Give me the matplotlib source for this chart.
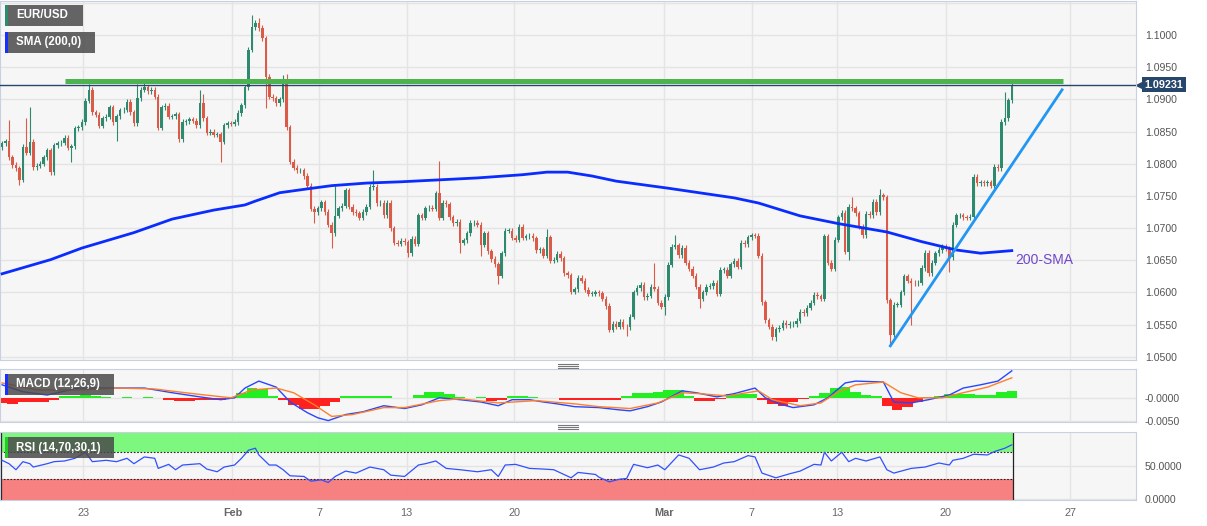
import numpy as np
import matplotlib.pyplot as plt
from matplotlib.patches import Rectangle
from matplotlib.lines import Line2D
from matplotlib.transforms import blended_transform_factory

plt.rcParams['font.family'] = ['Liberation Sans', 'DejaVu Sans']

# 4H closes, EUR/USD, Jan 17 -> Mar 23
closes = [
    1.0832, 1.0835, 1.0810, 1.0798, 1.0793, 1.0775, 1.0826, 1.0817, 1.0834, 1.0795,
    1.0797, 1.0800, 1.0810, 1.0821, 1.0787, 1.0829, 1.0832, 1.0833, 1.0840, 1.0825,
    1.0827, 1.0855, 1.0857, 1.0865, 1.0898, 1.0915,
    1.0880, 1.0876, 1.0859, 1.0871, 1.0873, 1.0888, 1.0865, 1.0874, 1.0883, 1.0884,
    1.0896, 1.0880, 1.0863, 1.0902, 1.0915, 1.0919, 1.0913, 1.0915, 1.0904, 1.0856,
    1.0888, 1.0890, 1.0873, 1.0874, 1.0877, 1.0838, 1.0865, 1.0866, 1.0869, 1.0867,
    1.0860, 1.0894, 1.0871, 1.0848, 1.0850, 1.0845, 1.0846, 1.0834, 1.0860, 1.0863,
    1.0862, 1.0865, 1.0879, 1.0891, 1.0919, 1.0977, 1.1012, 1.1019,
    1.1011, 1.0995, 1.0935, 1.0904, 1.0902, 1.0894, 1.0900, 1.0927, 1.0857, 1.0803,
    1.0794, 1.0790, 1.0790, 1.0781, 1.0766, 1.0730, 1.0725, 1.0731, 1.0740, 1.0725,
    1.0705, 1.0692, 1.0719, 1.0731, 1.0735, 1.0759, 1.0733, 1.0725, 1.0723, 1.0716,
    1.0725, 1.0733, 1.0764, 1.0764, 1.0739, 1.0739, 1.0720, 1.0739, 1.0700, 1.0677,
    1.0676, 1.0680, 1.0678, 1.0661, 1.0683, 1.0676, 1.0720, 1.0716, 1.0731, 1.0732,
    1.0730, 1.0754, 1.0716, 1.0739, 1.0737, 1.0717, 1.0708, 1.0710, 1.0677, 1.0681,
    1.0692, 1.0708, 1.0708, 1.0705, 1.0674, 1.0692, 1.0664, 1.0652, 1.0644, 1.0626,
    1.0661, 1.0696,
    1.0696, 1.0685, 1.0682, 1.0702, 1.0685, 1.0687, 1.0688, 1.0684, 1.0666, 1.0667,
    1.0657, 1.0686, 1.0649, 1.0651, 1.0660, 1.0653, 1.0630, 1.0627, 1.0601, 1.0605,
    1.0623, 1.0618, 1.0604, 1.0598, 1.0598, 1.0600, 1.0599, 1.0590, 1.0579, 1.0542,
    1.0551, 1.0547, 1.0554, 1.0547, 1.0546, 1.0562, 1.0600, 1.0607, 1.0612, 1.0593,
    1.0595, 1.0609, 1.0606, 1.0584, 1.0578, 1.0593, 1.0643, 1.0671, 1.0673, 1.0658,
    1.0669, 1.0646, 1.0637, 1.0626, 1.0609, 1.0590, 1.0600, 1.0609, 1.0610, 1.0615,
    1.0598, 1.0635, 1.0635, 1.0626, 1.0644, 1.0649, 1.0640, 1.0677, 1.0675, 1.0686,
    1.0689, 1.0688, 1.0657,
    1.0585, 1.0557, 1.0547, 1.0530, 1.0543, 1.0545, 1.0553, 1.0549, 1.0551, 1.0551,
    1.0556, 1.0570, 1.0568, 1.0576, 1.0584, 1.0596, 1.0594, 1.0590, 1.0687, 1.0646,
    1.0637, 1.0682, 1.0717, 1.0724, 1.0663, 1.0733, 1.0731, 1.0723, 1.0702, 1.0689,
    1.0722, 1.0720, 1.0741, 1.0725, 1.0751, 1.0748, 1.0588, 1.0534, 1.0581, 1.0581,
    1.0600, 1.0625, 1.0618, 1.0615, 1.0614, 1.0615, 1.0638, 1.0662, 1.0630, 1.0646,
    1.0661, 1.0666, 1.0671, 1.0668, 1.0655, 1.0705, 1.0720, 1.0720, 1.0717, 1.0716,
    1.0718, 1.0780, 1.0770, 1.0771, 1.0770, 1.0771, 1.0766, 1.0795, 1.0793, 1.0865,
    1.0871, 1.0899, 1.09231,
]
first_open = 1.0826

# long wicks
hi_idx = [2, 7, 8, 25, 39, 41, 57, 58, 72, 74, 81, 82, 96, 107, 126, 157, 188, 194, 245, 253, 289, 291]
hi_val = [1.0868, 1.0871, 1.0888, 1.0924, 1.0924, 1.0925, 1.0915, 1.0908, 1.1031, 1.1026, 1.0938,
          1.0940, 1.0766, 1.0790, 1.0804, 1.0699, 1.0646, 1.0689, 1.0748, 1.0761, 1.0911, 1.0925]
lo_idx = [5, 20, 33, 63, 76, 90, 95, 117, 132, 138, 143, 180, 191, 201, 223, 244, 256, 262, 273]
lo_val = [1.0767, 1.0803, 1.0835, 1.0803, 1.0887, 1.0708, 1.0669, 1.0655, 1.0661, 1.0656, 1.0613,
          1.0533, 1.0565, 1.0576, 1.0525, 1.0651, 1.0517, 1.0550, 1.0632]

# 200 SMA (read at candle positions)
sma_idx = [0, 14, 23, 38, 49, 61, 70, 73, 80, 88, 95, 105, 115, 137, 150, 157, 163, 170, 177, 192,
           211, 218, 230, 241, 255, 265, 275, 282, 291]
sma_val = [1.0629, 1.0651, 1.0669, 1.0693, 1.0714, 1.0728, 1.0736, 1.0742, 1.0755, 1.0761,
           1.0766, 1.0770, 1.0772, 1.0778, 1.0783, 1.0787, 1.0787, 1.0781, 1.0773, 1.0762, 1.0747, 1.0739,
           1.0719, 1.0707, 1.0694, 1.0679, 1.0666, 1.0661, 1.0665]

resist_idx = [18.2, 305.8]
resist_val = 1.0929
trend_idx = [256, 305.5]
trend_val = [1.0517, 1.0915]

# MACD (values in 1e-4)
macd_idx = [0, 6, 13, 22, 33, 41, 49, 57, 63, 67, 70, 74, 79, 83, 88, 91, 94, 99, 104, 110,
            116, 121, 126, 132, 138, 143, 147, 152, 156, 160, 165, 172, 178, 181, 186, 190,
            196, 200, 206, 211, 217, 220, 224, 228, 234, 238, 243, 246, 254, 257, 262, 267,
            273, 277, 282, 287, 291]
macd_val = [28, 13, 6, 21, 21, 21, 11, 2, -4, 0, 21, 36, 23, -9, -32, -43, -49, -36, -30, -17,
            -23, -15, 0, -4, -9, -17, -4, -4, -9, -13, -19, -21, -26, -28, -19, -9, 15, 11, 2,
            9, 21, 0, -13, -21, -15, 0, 32, 36, 34, -9, -11, -4, 6, 21, 28, 36, 58]
signal_idx = [0, 10, 22, 33, 44, 55, 66, 72, 79, 84, 90, 95, 101, 110, 116, 126, 132, 143, 154,
              165, 172, 181, 189, 196, 201, 209, 218, 222, 230, 236, 241, 246, 254, 259, 264,
              271, 277, 284, 291]
signal_val = [32, 17, 17, 21, 19, 9, 0, 17, 21, 11, -15, -40, -36, -21, -21, -6, -2, -11, -6,
              -13, -19, -23, -11, 11, 9, 4, 15, -4, -17, -11, 13, 28, 34, 11, 0, 0, 11, 23, 43]
hist_val = [-12, -13, -9, -8, -8, -5, 3, 3, 7, 4, 1, -1, 1, -1, 1, -1, -5, -7, -7, -4,
            -4, -4, 1, 10, 21, 18, 4, -4, -16, -23, -25, -18, -8, 4, 5, 5, 5, 3, -1, -1,
            7, 12, 13, 8, 1, -1, 1, -7, -5, 4, 4, 1, -1, -1, -4, -5, -5, -5, -5, -4,
            3, 10, 10, 12, 17, 16, 5, -7, -7, -3, 8, 9, 8, -4, -13, -17, -10, -3, 3, 10,
            21, 23, 13, 7, 5, -18, -26, -20, -8, 1, 3, 8, 8, 8, 7, 7, 12, 14]
hist_step = 3

# RSI
rsi_idx = [0, 2, 4, 6, 8, 9, 13, 15, 18, 21, 24, 26, 30, 33, 36, 38, 41, 44, 45, 48,
           50, 52, 57, 59, 62, 64, 67, 69, 71, 73, 74, 77, 79, 81, 83, 87, 89, 92, 94, 96,
           99, 102, 106, 110, 112, 116, 120, 122, 125, 128, 132, 137, 141, 143, 145, 148, 152, 156, 159, 164,
           166, 171, 172, 175, 178, 180, 182, 186, 189, 191, 195, 198, 201, 205, 208, 211, 215, 217, 219, 223,
           227, 230, 234, 236, 237, 239, 242, 244, 246, 249, 253, 255, 257, 262, 266, 270, 273, 274, 277, 280,
           284, 286, 289, 291]
rsi_val = [58, 53, 44, 56, 53, 48, 53, 56, 57, 61, 70, 56, 58, 56, 61, 53, 63, 61, 46, 52,
           44, 51, 53, 45, 41, 48, 51, 61, 73, 76, 66, 51, 51, 44, 35, 34, 27, 29, 25, 34,
           42, 39, 48, 44, 36, 34, 51, 53, 57, 46, 44, 41, 44, 34, 51, 52, 46, 45, 44, 32,
           40, 37, 33, 26, 30, 31, 52, 47, 51, 44, 66, 61, 44, 48, 54, 56, 65, 63, 39, 32,
           38, 42, 52, 51, 70, 57, 70, 56, 61, 57, 63, 44, 39, 46, 48, 54, 51, 58, 61, 67,
           66, 71, 76, 81]

tick_pos = [23.4, 66.4, 91.4, 116.6, 147.6, 190.9, 216.0, 240.7, 271.9, 307.8]
tick_labels = ['23', 'Feb', '7', '13', '20', 'Mar', '7', '13', '20', '27']

# ---- derived candle arrays
closes = np.array(closes)
n = len(closes)
x = np.arange(n)
opens = np.concatenate([[first_open], closes[:-1]])
highs = np.maximum(opens, closes) + 0.0004
lows = np.minimum(opens, closes) - 0.0004
for i, v in zip(hi_idx, hi_val):
    if i < n:
        highs[i] = max(highs[i], v)
for i, v in zip(lo_idx, lo_val):
    if i < n:
        lows[i] = min(lows[i], v)

GREEN = '#2e8a6e'
RED = '#dc5a48'
GRID = '#e4e4e4'
SPINE = '#c8d0e2'
PANEL = '#f6f6f6'
W, H = 1207, 526


def frac(x0, y0, x1, y1):
    return [x0 / W, 1 - y1 / H, (x1 - x0) / W, (y1 - y0) / H]


fig = plt.figure(figsize=(W / 100, H / 100), dpi=100)
ax = fig.add_axes(frac(0, 1, 1136, 360))
ax_m = fig.add_axes(frac(0, 369, 1136, 422), sharex=ax)
ax_r = fig.add_axes(frac(0, 432, 1136, 500), sharex=ax)

xmin, xmax = -0.6, 326.8

for a in (ax, ax_m, ax_r):
    a.set_facecolor(PANEL)
    for s in a.spines.values():
        s.set_color(SPINE)
    a.yaxis.tick_right()
    a.tick_params(axis='y', length=0, pad=6.5, labelsize=7.6, labelcolor='#555555')
    a.tick_params(axis='x', length=0)
    a.set_xticks(tick_pos)
    a.grid(True, color=GRID, lw=1)
    a.set_axisbelow(True)
ax.set_xlim(xmin, xmax)
plt.setp(ax.get_xticklabels(), visible=False)
plt.setp(ax_m.get_xticklabels(), visible=False)

# ---- price panel
colors = np.where(closes >= opens, GREEN, RED)
ax.vlines(x, lows, highs, colors=colors, lw=0.8, zorder=2)
body_h = np.maximum(np.abs(closes - opens), 0.00007)
ax.bar(x, body_h, bottom=np.minimum(opens, closes), width=0.72, color=colors, lw=0, zorder=3)

ax.plot(sma_idx, sma_val, color='#0a2cff', lw=2.0, zorder=4)
ax.hlines(resist_val, resist_idx[0], resist_idx[1], color='#4cb34f', lw=3.6, zorder=4)
ax.axhline(closes[-1], color='#27466b', lw=1.0, zorder=4)
ax.plot(trend_idx, trend_val, color='#2196f3', lw=2.0, zorder=5)
ax.text(292, 1.0650, '200-SMA', color='#7048c8', fontsize=10, ha='left', va='center')

ax.set_ylim(1.0495, 1.1053)
yt = np.arange(1.05, 1.1051, 0.005)
ax.set_yticks(yt)
ax.set_yticklabels([f'{v:.4f}' for v in yt[:-1]] + [''])

# last price label
bt = blended_transform_factory(ax.transAxes, ax.transData)
ax.plot([1.004], [closes[-1]], marker='<', ms=7, color='#27466b', transform=bt, clip_on=False)
ax.text(1.0075, closes[-1], f'{closes[-1]:.5f}', transform=bt, ha='left', va='center',
        color='white', fontsize=7.8, fontweight='bold', clip_on=False,
        bbox=dict(boxstyle='square,pad=0.25', fc='#27466b', ec='none'))

# ---- MACD panel
hist = np.array(hist_val) * 1e-4
hist_x = np.arange(len(hist)) * hist_step
ax_m.bar(hist_x, hist, width=3.0, color=np.where(hist >= 0, '#22ee22', '#ff2020'), lw=0, zorder=2)
ax_m.plot(macd_idx, np.array(macd_val) * 1e-4, color='#2846ff', lw=1.0, zorder=3)
ax_m.plot(signal_idx, np.array(signal_val) * 1e-4, color='#ff7f2a', lw=1.0, zorder=3)
ax_m.set_ylim(-0.0052, 0.0062)
ax_m.set_yticks([-0.005, 0.0])
ax_m.set_yticklabels(['-0.0050', '-0.0000'])

# ---- RSI panel
last = n - 0.7
ax_r.fill_between([xmin, last], 70, 101, color='#78f878', alpha=0.95, lw=0, zorder=1.5)
ax_r.fill_between([xmin, last], -2, 30, color='#f87a7a', alpha=0.95, lw=0, zorder=1.5)
ax_r.hlines([70, 30], xmin, last, colors='#222222', linestyles=(0, (1.5, 1.5)), lw=0.8, zorder=2)
ax_r.vlines([last, xmin + 0.15], -2, 101, colors='#222222', lw=0.9, zorder=2)
ax_r.plot(rsi_idx, rsi_val, color='#3050ff', lw=0.9, zorder=3)
ax_r.set_ylim(-1.0, 100.1)
ax_r.set_yticks([0, 50])
ax_r.set_yticklabels(['0.0000', '50.0000'])
ax_r.set_xticklabels(tick_labels)
ax_r.tick_params(axis='x', pad=6, labelsize=7.8, labelcolor='#666666')
for t in ax_r.get_xticklabels():
    if t.get_text() in ('Feb', 'Mar'):
        t.set_fontweight('bold')


# ---- legend tags and pane handles
def tag(x0, y0, x1, y1, bar_color, label):
    fig.add_artist(Rectangle((x0 / W, 1 - y1 / H), (x1 - x0) / W, (y1 - y0) / H,
                             transform=fig.transFigure, fc='#4a4a4a', alpha=0.85, ec='none'))
    fig.add_artist(Rectangle((x0 / W, 1 - y1 / H), 2.5 / W, (y1 - y0) / H,
                             transform=fig.transFigure, fc=bar_color, ec='none'))
    fig.text((x0 + 11) / W, 1 - (y0 + y1) / 2 / H, label, color='white', fontsize=8.3,
             fontweight='bold', ha='left', va='center')


tag(5, 5, 83, 26, '#2e8a6e', 'EUR/USD')
tag(5, 32, 95, 53, '#1a2fff', 'SMA (200,0)')
tag(5, 374, 114, 395, '#1a2fff', 'MACD (12,26,9)')
tag(5, 437, 114, 458, '#22cc22', 'RSI (14,70,30,1)')

for yy in (363.5, 365.5, 367.5, 424.5, 426.5, 428.5):
    fig.add_artist(Line2D([558 / W, 578 / W], [1 - yy / H] * 2, transform=fig.transFigure,
                          color='#777777', lw=0.8))

fig.savefig('out.png', dpi=100, facecolor='white')
